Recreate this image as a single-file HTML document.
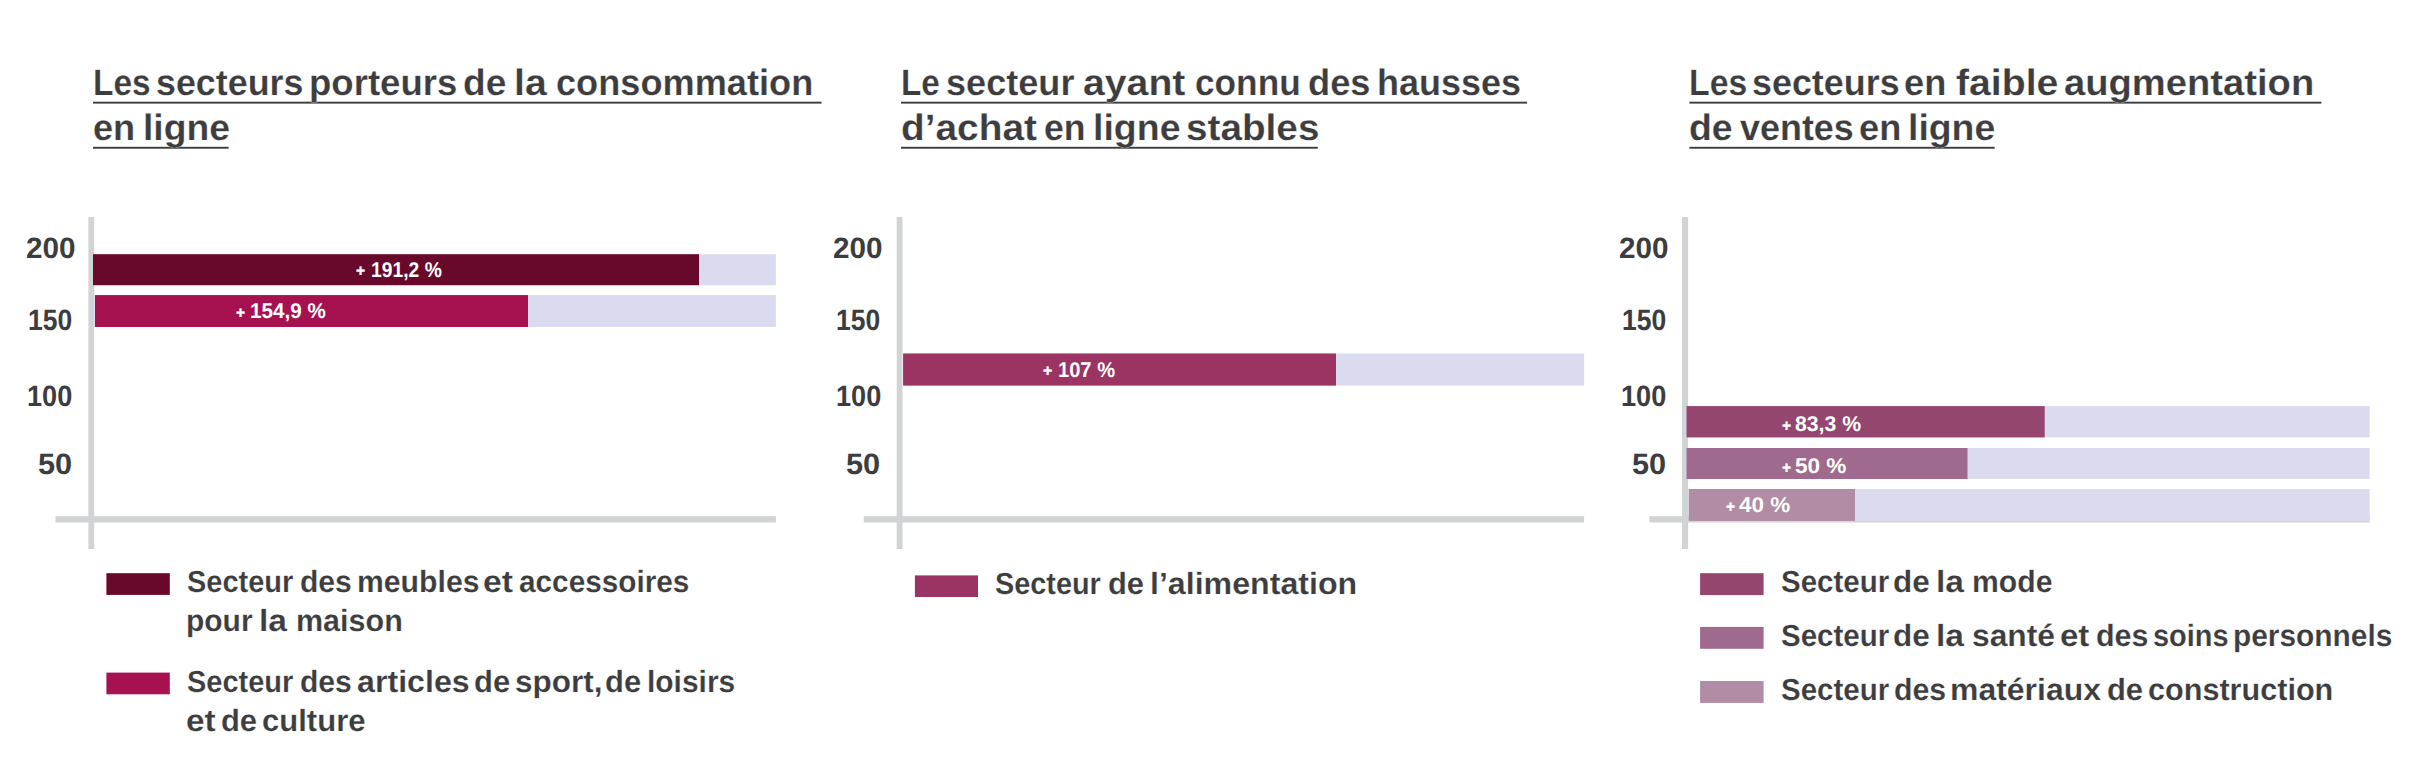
<!DOCTYPE html>
<html lang="fr">
<head>
<meta charset="utf-8">
<title>Les secteurs de la consommation en ligne</title>
<style>
html,body{margin:0;padding:0;background:#fff}
body{width:2418px;height:776px;position:relative;overflow:hidden;font-family:"Liberation Sans",sans-serif}
.x{position:absolute;white-space:nowrap;transform-origin:0 0;font-weight:700;color:#3d3d40;text-rendering:geometricPrecision}
.t{font-size:35px;line-height:35px;word-spacing:-4px;-webkit-text-stroke:0.18px #fff}
.a{font-size:29.5px;line-height:29.5px}
.l{font-size:30px;line-height:30px;word-spacing:-3px;-webkit-text-stroke:0.15px #fff}
.v{font-size:20.5px;line-height:20.5px;color:#fff}
.p{font-size:16px;line-height:16px;color:#fff;-webkit-text-stroke:0.4px #fff}
.g{position:absolute;left:0;top:0;display:block}
h2,ul,li{margin:0;padding:0;list-style:none;font:inherit}
</style>
</head>
<body>
<svg class="g" width="2418" height="776" viewBox="0 0 2418 776" aria-hidden="true">
<!-- title underlines -->
<rect x="93.0" y="101.7" width="728.6" height="1.9" fill="#3d3d40"/>
<rect x="93.0" y="146.8" width="135.6" height="1.9" fill="#3d3d40"/>
<rect x="901.0" y="101.7" width="626.1" height="1.9" fill="#3d3d40"/>
<rect x="901.0" y="146.8" width="416.8" height="1.9" fill="#3d3d40"/>
<rect x="1689.4" y="101.7" width="632.0" height="1.9" fill="#3d3d40"/>
<rect x="1689.4" y="146.8" width="305.3" height="1.9" fill="#3d3d40"/>
<!-- chart 1 -->
<rect x="55.5" y="516.2" width="720.4" height="6.3" fill="#d1d3d4"/>
<rect x="88.4" y="217.0" width="5.8" height="332.0" fill="#d1d3d4"/>
<rect x="93.0" y="254.2" width="682.9" height="31.0" fill="#dbdbf0"/>
<rect x="93.0" y="254.2" width="606.0" height="31.0" fill="#68082a"/>
<rect x="94.2" y="295.1" width="681.7" height="31.9" fill="#dbdbf0"/>
<rect x="95.0" y="295.1" width="433.0" height="31.9" fill="#a5124f"/>
<!-- chart 2 -->
<rect x="863.8" y="516.2" width="720.3" height="6.3" fill="#d1d3d4"/>
<rect x="896.7" y="217.0" width="5.8" height="332.0" fill="#d1d3d4"/>
<rect x="903.1" y="353.5" width="681.0" height="32.1" fill="#dbdbf0"/>
<rect x="903.1" y="353.5" width="432.9" height="32.1" fill="#9b3363"/>
<!-- chart 3 -->
<rect x="1649.4" y="516.2" width="720.3" height="6.3" fill="#d1d3d4"/>
<rect x="1682.0" y="217.0" width="6.1" height="332.0" fill="#d1d3d4"/>
<rect x="1686.5" y="406.1" width="683.2" height="31.3" fill="#dbdbf0"/>
<rect x="1686.5" y="406.1" width="358.2" height="31.3" fill="#94466e"/>
<rect x="1686.5" y="448.0" width="683.2" height="31.0" fill="#dbdbf0"/>
<rect x="1686.5" y="448.0" width="281.0" height="31.0" fill="#9f6a8d"/>
<rect x="1688.7" y="489.0" width="681.0" height="31.9" fill="#dbdbf0"/>
<rect x="1688.7" y="489.0" width="166.3" height="31.9" fill="#b08ca5"/>
<!-- legend swatches -->
<rect x="106.4" y="573.2" width="63.4" height="21.7" fill="#68082a"/>
<rect x="106.4" y="672.6" width="63.4" height="21.7" fill="#a5124f"/>
<rect x="914.9" y="575.4" width="63.1" height="21.6" fill="#9b3363"/>
<rect x="1700.1" y="573.2" width="63.5" height="21.9" fill="#94466e"/>
<rect x="1700.1" y="626.9" width="63.5" height="21.9" fill="#9f6a8d"/>
<rect x="1700.1" y="681.0" width="63.5" height="21.9" fill="#b08ca5"/>
</svg>
<section class="chart">
<h2 class="title">
<span class="x t" style="left:93.26px;top:64.65px;transform:scale(0.9564,1.045)">Les </span>
<span class="x t" style="left:156.09px;top:64.65px;transform:scale(1.0240,1.045)">secteurs </span>
<span class="x t" style="left:309.37px;top:64.65px;transform:scale(1.0449,1.045)">porteurs </span>
<span class="x t" style="left:462.65px;top:64.65px;transform:scale(1.0607,1.045)">de </span>
<span class="x t" style="left:513.65px;top:64.65px;transform:scale(1.1200,1.045)">la </span>
<span class="x t" style="left:555.83px;top:64.65px;transform:scale(1.0334,1.045)">consommation</span>
<br>
<span class="x t" style="left:92.60px;top:109.85px;transform:scale(1.0328,1.045)">en </span>
<span class="x t" style="left:142.66px;top:109.85px;transform:scale(1.0653,1.045)">ligne</span>
</h2>
<div class="axis">
<span class="x a" style="left:25.77px;top:234.00px;transform:scaleX(1.0059)">200</span>
<span class="x a" style="left:28.36px;top:305.50px;transform:scaleX(0.8973)">150</span>
<span class="x a" style="left:27.44px;top:382.00px;transform:scaleX(0.9185)">100</span>
<span class="x a" style="left:37.69px;top:450.20px;transform:scaleX(1.0406)">50</span>
</div>
<div class="values">
<div class="val"><span class="x p" style="left:356.37px;top:264.30px;transform:scaleX(0.9677)">+</span> <span class="x v" style="left:370.61px;top:260.12px;transform:scale(0.9411,1.04)">191,2 %</span></div>
<div class="val"><span class="x p" style="left:236.06px;top:305.90px;transform:scaleX(0.9677)">+</span> <span class="x v" style="left:250.00px;top:300.72px;transform:scale(1.0072,1.04)">154,9 %</span></div>
</div>
<ul class="legend">
<li>
<span class="x l" style="left:186.75px;top:567.70px;transform:scale(0.9647,1.02)">Secteur </span>
<span class="x l" style="left:299.88px;top:567.70px;transform:scale(1.0025,1.02)">des </span>
<span class="x l" style="left:356.70px;top:567.70px;transform:scale(1.0061,1.02)">meubles </span>
<span class="x l" style="left:482.77px;top:567.70px;transform:scale(1.1200,1.02)">et </span>
<span class="x l" style="left:518.61px;top:567.70px;transform:scale(0.9915,1.02)">accessoires</span>
<br>
<span class="x l" style="left:186.37px;top:606.70px;transform:scale(0.9991,1.02)">pour </span>
<span class="x l" style="left:258.89px;top:606.70px;transform:scale(1.1200,1.02)">la </span>
<span class="x l" style="left:296.13px;top:606.70px;transform:scale(1.0168,1.02)">maison</span>
</li>
<li>
<span class="x l" style="left:186.75px;top:668.30px;transform:scale(0.9647,1.02)">Secteur </span>
<span class="x l" style="left:299.88px;top:668.30px;transform:scale(1.0025,1.02)">des </span>
<span class="x l" style="left:356.89px;top:668.30px;transform:scale(1.0726,1.02)">articles </span>
<span class="x l" style="left:473.97px;top:668.30px;transform:scale(1.0302,1.02)">de </span>
<span class="x l" style="left:515.06px;top:668.30px;transform:scale(1.0511,1.02)">sport, </span>
<span class="x l" style="left:605.07px;top:668.30px;transform:scale(1.0302,1.02)">de </span>
<span class="x l" style="left:647.24px;top:668.30px;transform:scale(0.9978,1.02)">loisirs</span>
<br>
<span class="x l" style="left:185.64px;top:706.80px;transform:scale(1.1107,1.02)">et </span>
<span class="x l" style="left:221.47px;top:706.80px;transform:scale(1.0300,1.02)">de </span>
<span class="x l" style="left:261.66px;top:706.80px;transform:scale(1.0346,1.02)">culture</span>
</li>
</ul>
</section>
<section class="chart">
<h2 class="title">
<span class="x t" style="left:900.83px;top:64.65px;transform:scale(0.9500,1.045)">Le </span>
<span class="x t" style="left:945.85px;top:64.65px;transform:scale(1.0314,1.045)">secteur </span>
<span class="x t" style="left:1083.34px;top:64.65px;transform:scale(1.1200,1.045)">ayant </span>
<span class="x t" style="left:1195.46px;top:64.65px;transform:scale(1.0067,1.045)">connu </span>
<span class="x t" style="left:1307.77px;top:64.65px;transform:scale(1.0359,1.045)">des </span>
<span class="x t" style="left:1376.85px;top:64.65px;transform:scale(1.0283,1.045)">hausses</span>
<br>
<span class="x t" style="left:900.92px;top:109.85px;transform:scale(1.1095,1.045)">d’achat </span>
<span class="x t" style="left:1043.80px;top:109.85px;transform:scale(1.0180,1.045)">en </span>
<span class="x t" style="left:1093.21px;top:109.85px;transform:scale(1.0717,1.045)">ligne </span>
<span class="x t" style="left:1185.98px;top:109.85px;transform:scale(1.1062,1.045)">stables</span>
</h2>
<div class="axis">
<span class="x a" style="left:833.18px;top:234.00px;transform:scaleX(1.0059)">200</span>
<span class="x a" style="left:835.76px;top:305.50px;transform:scaleX(0.8973)">150</span>
<span class="x a" style="left:835.84px;top:382.00px;transform:scaleX(0.9185)">100</span>
<span class="x a" style="left:846.09px;top:450.20px;transform:scaleX(1.0406)">50</span>
</div>
<div class="values">
<div class="val"><span class="x p" style="left:1043.44px;top:364.00px;transform:scaleX(0.9859)">+</span> <span class="x v" style="left:1057.83px;top:360.22px;transform:scale(0.9812,1.04)">107 %</span></div>
</div>
<ul class="legend">
<li>
<span class="x l" style="left:995.17px;top:569.50px;transform:scale(0.9614,1.02)">Secteur </span>
<span class="x l" style="left:1107.57px;top:569.50px;transform:scale(1.0300,1.02)">de </span>
<span class="x l" style="left:1150.27px;top:569.50px;transform:scale(1.0714,1.02)">l’alimentation</span>
</li>
</ul>
</section>
<section class="chart">
<h2 class="title">
<span class="x t" style="left:1689.44px;top:64.65px;transform:scale(0.9651,1.045)">Les </span>
<span class="x t" style="left:1752.48px;top:64.65px;transform:scale(1.0253,1.045)">secteurs </span>
<span class="x t" style="left:1903.75px;top:64.65px;transform:scale(1.0348,1.045)">en </span>
<span class="x t" style="left:1955.54px;top:64.65px;transform:scale(1.1200,1.045)">faible </span>
<span class="x t" style="left:2064.09px;top:64.65px;transform:scale(1.0907,1.045)">augmentation</span>
<br>
<span class="x t" style="left:1689.07px;top:109.85px;transform:scale(1.0695,1.045)">de </span>
<span class="x t" style="left:1740.34px;top:109.85px;transform:scale(1.0260,1.045)">ventes </span>
<span class="x t" style="left:1858.75px;top:109.85px;transform:scale(1.0348,1.045)">en </span>
<span class="x t" style="left:1908.45px;top:109.85px;transform:scale(1.0679,1.045)">ligne</span>
</h2>
<div class="axis">
<span class="x a" style="left:1618.97px;top:234.00px;transform:scaleX(1.0059)">200</span>
<span class="x a" style="left:1621.56px;top:305.50px;transform:scaleX(0.8973)">150</span>
<span class="x a" style="left:1620.65px;top:382.00px;transform:scaleX(0.9185)">100</span>
<span class="x a" style="left:1631.88px;top:450.20px;transform:scaleX(1.0406)">50</span>
</div>
<div class="values">
<div class="val"><span class="x p" style="left:1781.67px;top:418.70px;transform:scaleX(0.9677)">+</span> <span class="x v" style="left:1795.15px;top:414.22px;transform:scale(1.0355,1.04)">83,3 %</span></div>
<div class="val"><span class="x p" style="left:1781.67px;top:460.60px;transform:scaleX(0.9677)">+</span> <span class="x v" style="left:1794.86px;top:456.12px;transform:scale(1.1007,1.04)">50 %</span></div>
<div class="val"><span class="x p" style="left:1725.67px;top:499.80px;transform:scaleX(0.9677)">+</span> <span class="x v" style="left:1738.58px;top:495.32px;transform:scale(1.0969,1.04)">40 %</span></div>
</div>
<ul class="legend">
<li>
<span class="x l" style="left:1780.57px;top:568.10px;transform:scale(0.9826,1.02)">Secteur </span>
<span class="x l" style="left:1893.48px;top:568.10px;transform:scale(1.0485,1.02)">de </span>
<span class="x l" style="left:1935.53px;top:568.10px;transform:scale(1.1200,1.02)">la </span>
<span class="x l" style="left:1972.31px;top:568.10px;transform:scale(1.0053,1.02)">mode</span>
</li>
<li>
<span class="x l" style="left:1780.57px;top:622.00px;transform:scale(0.9826,1.02)">Secteur </span>
<span class="x l" style="left:1893.48px;top:622.00px;transform:scale(1.0485,1.02)">de </span>
<span class="x l" style="left:1935.53px;top:622.00px;transform:scale(1.1200,1.02)">la </span>
<span class="x l" style="left:1971.79px;top:622.00px;transform:scale(1.0584,1.02)">santé </span>
<span class="x l" style="left:2060.49px;top:622.00px;transform:scale(1.0995,1.02)">et </span>
<span class="x l" style="left:2096.27px;top:622.00px;transform:scale(1.0144,1.02)">des </span>
<span class="x l" style="left:2152.74px;top:622.00px;transform:scale(0.9637,1.02)">soins </span>
<span class="x l" style="left:2233.45px;top:622.00px;transform:scale(0.9957,1.02)">personnels</span>
</li>
<li>
<span class="x l" style="left:1780.57px;top:675.50px;transform:scale(0.9826,1.02)">Secteur </span>
<span class="x l" style="left:1893.84px;top:675.50px;transform:scale(1.0101,1.02)">des </span>
<span class="x l" style="left:1950.29px;top:675.50px;transform:scale(1.0649,1.02)">matériaux </span>
<span class="x l" style="left:2107.37px;top:675.50px;transform:scale(1.0300,1.02)">de </span>
<span class="x l" style="left:2148.20px;top:675.50px;transform:scale(1.0197,1.02)">construction</span>
</li>
</ul>
</section>
</body>
</html>
